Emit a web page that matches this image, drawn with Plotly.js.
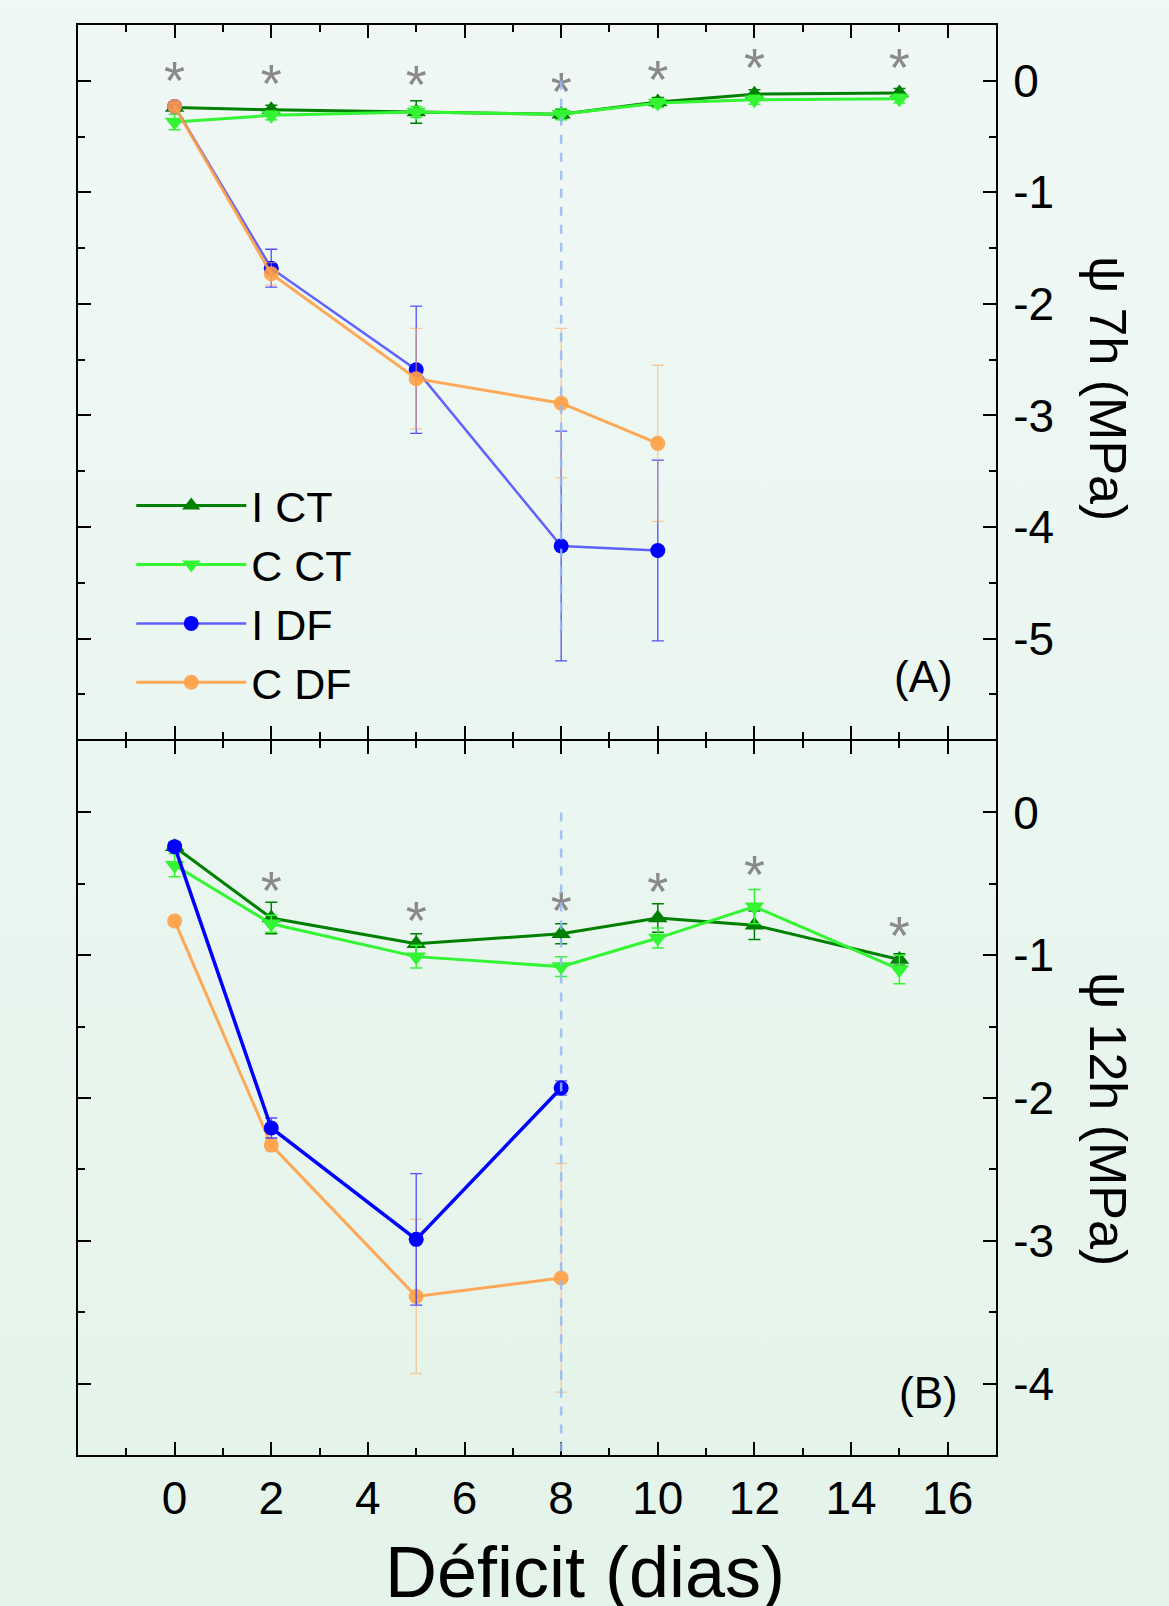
<!DOCTYPE html>
<html>
<head>
<meta charset="utf-8">
<script src="https://cdn.plot.ly/plotly-3.0.1.min.js"></script>
<style>
html,body{margin:0;padding:0;}
body{width:1169px;height:1606px;background:linear-gradient(180deg,#f0f8f5 0%,#eaf6f0 50%,#e4f4ea 100%);overflow:hidden;}
#chart{width:1169px;height:1606px;}
</style>
</head>
<body>
<div id="chart"></div>
<script>
// ---- Data ----
const seriesNames = ['I CT', 'C CT', 'I DF', 'C DF'];
const daysCT = [0, 2, 5, 8, 10, 12, 15];
const daysDF7 = [0, 2, 5, 8, 10];
const daysDF12 = [0, 2, 5, 8];

// Panel A: psi 7h (MPa)
const iCT7 = [-0.24, -0.26, -0.28, -0.30, -0.19, -0.12, -0.11];
const iCT7err = [0.03, 0.04, 0.10, 0.04, 0.04, 0.04, 0.04];
const cCT7 = [-0.37, -0.31, -0.28, -0.30, -0.20, -0.17, -0.16];
const cCT7err = [0.07, 0.04, 0.05, 0.05, 0.04, 0.04, 0.04];
const iDF7 = [-0.23, -1.68, -2.59, -4.17, -4.21];
const iDF7err = [0.03, 0.17, 0.57, 1.03, 0.81];
const cDF7 = [-0.23, -1.73, -2.67, -2.89, -3.25];
const cDF7err = [0.03, 0.10, 0.45, 0.67, 0.70];

// Panel B: psi 12h (MPa)
const iCT12 = [-0.24, -0.74, -0.92, -0.85, -0.74, -0.79, -1.03];
const iCT12err = [0.03, 0.11, 0.07, 0.07, 0.10, 0.10, 0.04];
const cCT12 = [-0.37, -0.78, -1.01, -1.08, -0.88, -0.66, -1.10];
const cCT12err = [0.08, 0.06, 0.08, 0.07, 0.07, 0.12, 0.10];
const iDF12 = [-0.24, -2.21, -2.99, -1.93];
const iDF12err = [0.03, 0.07, 0.46, 0.05];
const cDF12 = [-0.76, -2.33, -3.39, -3.26];
const cDF12err = [0.03, 0.04, 0.54, 0.80];

// Significance asterisks (anchor positions of the '*' text)
const starDays7 = [0, 2, 5, 8, 10, 12, 15];
const starY7 = [-0.04, -0.07, -0.08, -0.14, -0.03, 0.07, 0.07];
const starDays12 = [2, 5, 8, 10, 12, 15];
const starY12 = [-0.58, -0.79, -0.72, -0.59, -0.47, -0.90];

// Axis tick labels
const xTicks = [0, 2, 4, 6, 8, 10, 12, 14, 16];
const yTicks7 = [0, -1, -2, -3, -4, -5];
const yTicks12 = [0, -1, -2, -3, -4];

// ---- Styles ----
const FONT = 'Liberation Sans, Arial, sans-serif';
const cIct = '#008000';
const cCct = '#33f533';
const cBlue = '#0000ff';
const cOrange = 'rgba(255,160,70,0.9)';

function ctTrace(x, y, err, name, color, symbol, xa, ya, legend) {
  return {
    type: 'scatter', mode: 'lines+markers', x: x, y: y, name: name,
    xaxis: xa, yaxis: ya, showlegend: legend, legendgroup: name,
    line: {color: color, width: 3},
    marker: {color: color, symbol: symbol, size: 17},
    error_y: {type: 'data', array: err, visible: true, color: color, thickness: 1.5, width: 6}
  };
}
function dfTrace(x, y, err, name, lineColor, markerColor, errColor, lw, xa, ya, legend) {
  return {
    type: 'scatter', mode: 'lines+markers', x: x, y: y, name: name,
    xaxis: xa, yaxis: ya, showlegend: legend, legendgroup: name,
    line: {color: lineColor, width: lw},
    marker: {color: markerColor, symbol: 'circle', size: 15},
    error_y: {type: 'data', array: err, visible: true, color: errColor, thickness: 1.3, width: 6}
  };
}
function starTrace(x, y, xa, ya) {
  return {
    type: 'scatter', mode: 'text', x: x, y: y, text: x.map(() => '*'),
    textposition: 'middle center', hoverinfo: 'skip',
    textfont: {family: FONT, size: 54, color: '#8a8a8a'},
    xaxis: xa, yaxis: ya, showlegend: false
  };
}

const traces = [
  ctTrace(daysCT, iCT7, iCT7err, seriesNames[0], cIct, 'triangle-up', 'x', 'y', true),
  ctTrace(daysCT, cCT7, cCT7err, seriesNames[1], cCct, 'triangle-down', 'x', 'y', true),
  dfTrace(daysDF7, iDF7, iDF7err, seriesNames[2], 'rgba(70,70,255,0.85)', cBlue, 'rgba(40,40,255,0.8)', 2.5, 'x', 'y', true),
  dfTrace(daysDF7, cDF7, cDF7err, seriesNames[3], cOrange, cOrange, 'rgba(255,170,90,0.6)', 3, 'x', 'y', true),
  starTrace(starDays7, starY7, 'x', 'y'),
  ctTrace(daysCT, iCT12, iCT12err, seriesNames[0], cIct, 'triangle-up', 'x2', 'y2', false),
  ctTrace(daysCT, cCT12, cCT12err, seriesNames[1], cCct, 'triangle-down', 'x2', 'y2', false),
  dfTrace(daysDF12, cDF12, cDF12err, seriesNames[3], cOrange, cOrange, 'rgba(255,170,90,0.6)', 3, 'x2', 'y2', false),
  dfTrace(daysDF12, iDF12, iDF12err, seriesNames[2], cBlue, cBlue, 'rgba(40,40,255,0.8)', 3.5, 'x2', 'y2', false),
  starTrace(starDays12, starY12, 'x2', 'y2')
];

const tickFont = {family: FONT, size: 46, color: '#000'};
function xAxis(labels, anchor) {
  return {
    domain: [0, 1], anchor: anchor, range: [-2, 17],
    tickmode: 'array', tickvals: xTicks, ticktext: xTicks.map(String),
    showticklabels: labels, ticks: 'inside', ticklen: 13, tickwidth: 2, tickcolor: '#000',
    minor: {dtick: 1, tick0: 0, ticks: 'inside', ticklen: 7, tickwidth: 2, tickcolor: '#000'},
    showline: true, linecolor: '#000', linewidth: 2, mirror: 'ticks',
    showgrid: false, zeroline: false, tickfont: tickFont, ticklabelstandoff: 2
  };
}
function yAxis(domain, range, ticks, anchor) {
  return {
    domain: domain, anchor: anchor, range: range, side: 'right',
    tickmode: 'array', tickvals: ticks, ticktext: ticks.map(String),
    ticks: 'inside', ticklen: 13, tickwidth: 2, tickcolor: '#000',
    minor: {dtick: 0.5, tick0: 0, ticks: 'inside', ticklen: 7, tickwidth: 2, tickcolor: '#000'},
    showline: true, linecolor: '#000', linewidth: 2, mirror: 'ticks',
    showgrid: false, zeroline: false, tickfont: tickFont, ticklabelstandoff: 6
  };
}

const layout = {
  width: 1169, height: 1606,
  margin: {l: 78, r: 173, t: 25, b: 151},
  paper_bgcolor: 'rgba(0,0,0,0)', plot_bgcolor: 'rgba(0,0,0,0)',
  font: {family: FONT, color: '#000'},
  xaxis: xAxis(false, 'y'),
  yaxis: yAxis([0.5007, 1], [-5.9, 0.5], yTicks7, 'x'),
  xaxis2: xAxis(true, 'y2'),
  yaxis2: yAxis([0, 0.4993], [-4.5, 0.5], yTicks12, 'x2'),
  showlegend: true,
  legend: {
    x: 0.058, y: 0.688, xanchor: 'left', yanchor: 'top',
    bgcolor: 'rgba(0,0,0,0)', font: {family: FONT, size: 43, color: '#000'},
    itemwidth: 110, tracegroupgap: 0, traceorder: 'normal'
  },
  shapes: [
    {type: 'line', xref: 'x', yref: 'y', x0: 8, x1: 8, y0: 0, y1: -4.92,
     line: {color: 'rgba(150,185,240,0.85)', width: 2.5, dash: 'dash'}, layer: 'above'},
    {type: 'line', xref: 'x2', yref: 'y2', x0: 8, x1: 8, y0: 0, y1: -4.5,
     line: {color: 'rgba(150,185,240,0.85)', width: 2.5, dash: 'dash'}, layer: 'above'}
  ],
  annotations: [
    {text: 'ψ 7h (MPa)', xref: 'paper', yref: 'paper', x: 1.122, y: 0.7455,
     textangle: 90, showarrow: false, xanchor: 'center', yanchor: 'middle',
     font: {family: FONT, size: 52, color: '#000'}},
    {text: 'ψ 12h (MPa)', xref: 'paper', yref: 'paper', x: 1.122, y: 0.235,
     textangle: 90, showarrow: false, xanchor: 'center', yanchor: 'middle',
     font: {family: FONT, size: 52, color: '#000'}},
    {text: 'Déficit (dias)', xref: 'paper', yref: 'paper', x: 0.552, y: -0.082,
     showarrow: false, xanchor: 'center', yanchor: 'middle',
     font: {family: FONT, size: 72, color: '#000'}},
    {text: '(A)', xref: 'x', yref: 'y', x: 15.5, y: -5.34, showarrow: false,
     font: {family: FONT, size: 44, color: '#000'}},
    {text: '(B)', xref: 'x2', yref: 'y2', x: 15.6, y: -4.06, showarrow: false,
     font: {family: FONT, size: 44, color: '#000'}}
  ]
};

Plotly.newPlot('chart', traces, layout, {displayModeBar: false, staticPlot: true});
</script>
</body>
</html>
